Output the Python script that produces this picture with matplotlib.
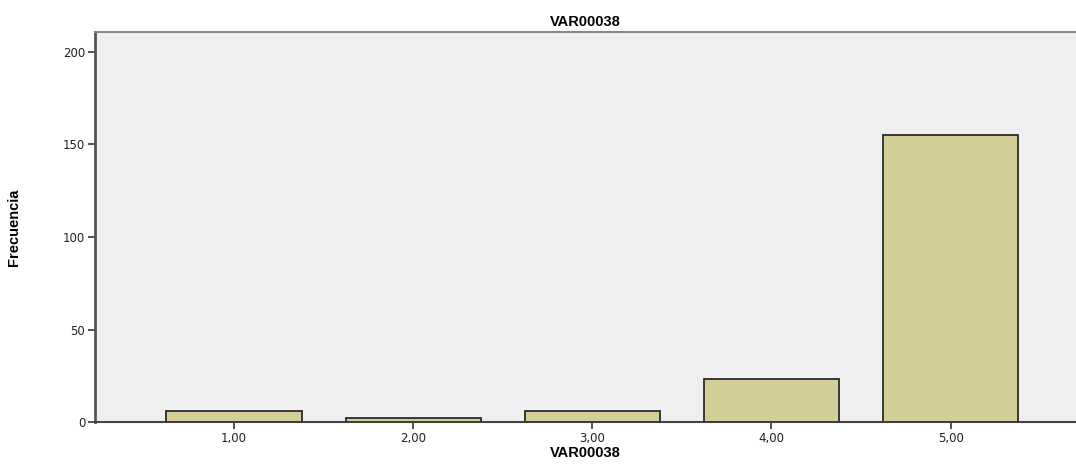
import matplotlib
matplotlib.use("Agg")
import matplotlib.pyplot as plt

categories = [1, 2, 3, 4, 5]
tick_labels = ["1,00", "2,00", "3,00", "4,00", "5,00"]
frequencies = [6, 2, 6, 23, 155]
y_ticks = [0, 50, 100, 150, 200]

fig = plt.figure(figsize=(10.76, 4.66), dpi=100)
ax = fig.add_axes([0.0883, 0.0944, 0.9117, 0.8369])
ax.set_facecolor("#efefef")

ax.bar(categories, frequencies, width=0.755, color="#d3ce97",
       edgecolor="#2b2b2b", linewidth=1.3, zorder=3)

ax.set_xlim(0.224, 5.70)
ax.set_ylim(0, 210.8)
ax.set_xticks(categories)
ax.set_xticklabels(tick_labels)
ax.set_yticks(y_ticks)

for lab in ax.get_xticklabels() + ax.get_yticklabels():
    lab.set_family(["DejaVu Sans"])
    lab.set_fontsize(8.5)
    lab.set_color("#222222")
ax.tick_params(axis="both", direction="out", length=5, width=1.2,
               color="#333333", pad=2)

ax.spines["right"].set_visible(False)
ax.spines["left"].set_color("#555555")
ax.spines["left"].set_linewidth(2)
ax.spines["bottom"].set_color("#444444")
ax.spines["bottom"].set_linewidth(1.5)
ax.spines["top"].set_color("#888888")
ax.spines["top"].set_linewidth(1.5)

ax.set_title("VAR00038", fontsize=10.5, fontweight="bold",
             family=["Liberation Sans", "DejaVu Sans"], pad=4)
ax.set_xlabel("VAR00038", fontsize=10.5, fontweight="bold",
              family=["Liberation Sans", "DejaVu Sans"], labelpad=1)
ax.set_ylabel("Frecuencia", fontsize=10.5, fontweight="bold",
              family=["Liberation Sans", "DejaVu Sans"],
              labelpad=30)

fig.savefig("out.png", dpi=100)
